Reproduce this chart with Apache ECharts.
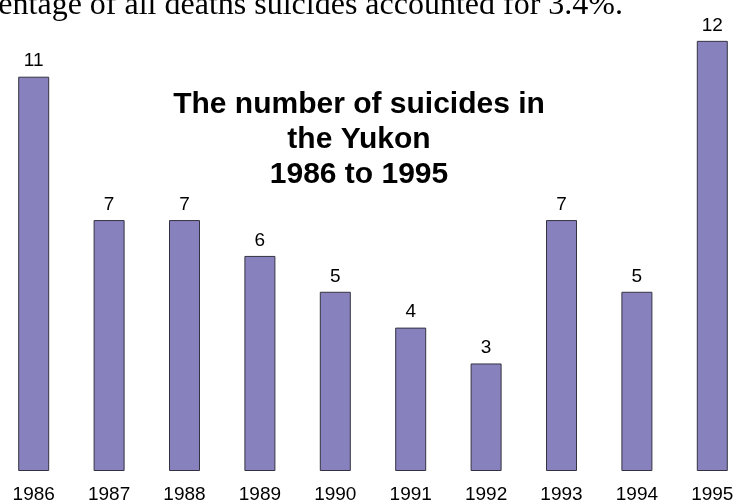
<!DOCTYPE html>
<html>
<head>
<meta charset="utf-8">
<script src="https://cdn.jsdelivr.net/npm/echarts@6/dist/echarts.min.js"></script>
<style>
html,body{margin:0;padding:0;background:#fff;overflow:hidden;width:744px;height:504px;}
#main{position:absolute;left:-4px;top:0;width:754px;height:504px;}
</style>
</head>
<body>
<div id="main"></div>
<script>
const years = ['1986','1987','1988','1989','1990','1991','1992','1993','1994','1995'];
const suicides = [11, 7, 7, 6, 5, 4, 3, 7, 5, 12];
const titleLines = ['The number of suicides in', 'the Yukon', '1986 to 1995'];
const topSentence = 'As a percentage of all deaths suicides accounted for 3.4%.';

const OFFSET = 4; // div is shifted 4px left of the window
const chart = echarts.init(document.getElementById('main'), null, {renderer: 'canvas'});
chart.setOption({
  animation: false,
  backgroundColor: '#ffffff',
  grid: {left: 0, right: 0, top: 5, bottom: 29, containLabel: false},
  xAxis: {
    type: 'category',
    data: years,
    axisLine: {show: false},
    axisTick: {show: false},
    axisLabel: {
      color: '#000',
      fontFamily: 'Liberation Sans, Arial, sans-serif',
      fontSize: 19,
      margin: 14
    }
  },
  yAxis: {
    type: 'value',
    min: 0,
    max: 13,
    show: false,
    splitLine: {show: false}
  },
  series: [{
    type: 'bar',
    data: suicides,
    barWidth: 31,
    itemStyle: {color: '#8782be', borderColor: '#333340', borderWidth: 1},
    label: {
      show: true,
      position: 'top',
      distance: 6,
      color: '#000',
      fontFamily: 'Liberation Sans, Arial, sans-serif',
      fontSize: 19
    }
  }],
  graphic: [
    {
      type: 'text',
      x: 623 + OFFSET,
      y: 6,
      style: {
        text: topSentence,
        font: '32px "Liberation Serif", "Times New Roman", serif',
        fill: '#000',
        textAlign: 'right',
        textVerticalAlign: 'middle'
      }
    },
    {
      type: 'text',
      x: 359 + OFFSET,
      y: 87,
      style: {
        text: titleLines.join('\n'),
        font: 'bold 30px "Liberation Sans", Arial, sans-serif',
        lineHeight: 35,
        fill: '#000',
        textAlign: 'center',
        textVerticalAlign: 'top'
      }
    }
  ]
});
</script>
</body>
</html>
